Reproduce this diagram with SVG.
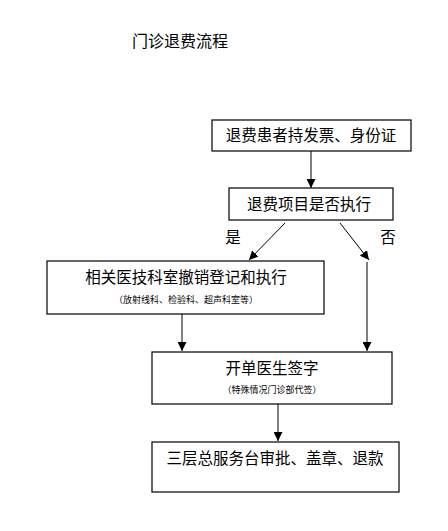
<svg xmlns="http://www.w3.org/2000/svg" width="448" height="531" viewBox="0 0 448 531">
<style>
text{font-family:"Noto Sans CJK SC","Noto Sans",sans-serif;fill:#000;text-anchor:middle}
.t{font-size:15.5px}
.s{font-size:9px}
.box{fill:#fff;stroke:#000;stroke-width:1.2}
.ln{stroke:#000;stroke-width:1;fill:none;marker-end:url(#ah)}
</style>
<defs>
<marker id="ah" viewBox="0 0 10 10" refX="10" refY="5" markerWidth="9" markerHeight="9" markerUnits="userSpaceOnUse" orient="auto">
<path d="M0,0 L10,5 L0,10 Z" fill="#000"/>
</marker>
</defs>
<rect width="448" height="531" fill="#fff"/>
<text x="180" y="47" class="t" style="font-size:16px">门诊退费流程</text>
<g id="connectors">
<line class="ln" x1="311" y1="151" x2="311" y2="188"/>
<line class="ln" x1="285" y1="223" x2="249" y2="260"/>
<line class="ln" x1="340" y1="223" x2="369" y2="260"/>
<line class="ln" x1="367" y1="262" x2="367" y2="351"/>
<line class="ln" x1="182" y1="314" x2="182" y2="351"/>
<line class="ln" x1="278" y1="404" x2="278" y2="441"/>
<text x="233" y="243" class="t">是</text>
<text x="388" y="243" class="t">否</text>
</g>
<g id="n1">
<rect class="box" x="212" y="120" width="199" height="31"/>
<text x="311" y="141" class="t">退费患者持发票、身份证</text>
</g>
<g id="n2">
<rect class="box" x="229" y="188" width="164" height="32"/>
<text x="309" y="210" class="t">退费项目是否执行</text>
</g>
<g id="n3">
<rect class="box" x="47" y="261" width="277" height="53"/>
<text x="186" y="283" class="t">相关医技科室撤销登记和执行</text>
<text x="186" y="303" class="s">（放射线科、检验科、超声科室等）</text>
</g>
<g id="n4">
<rect class="box" x="152" y="352" width="240" height="52"/>
<text x="272" y="374" class="t">开单医生签字</text>
<text x="272" y="393" class="s">（特殊情况门诊部代签）</text>
</g>
<g id="n5">
<rect class="box" x="152" y="442" width="247" height="50"/>
<text x="275" y="464" class="t">三层总服务台审批、盖章、退款</text>
</g>
</svg>
